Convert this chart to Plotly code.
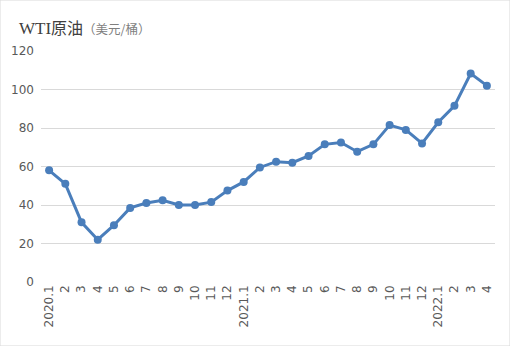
import plotly.graph_objects as go

tick_labels = ["2020.1", "2", "3", "4", "5", "6", "7", "8", "9", "10", "11", "12",
               "2021.1", "2", "3", "4", "5", "6", "7", "8", "9", "10", "11", "12",
               "2022.1", "2", "3", "4"]
wti_price = [58, 51, 31, 22, 29.5, 38.5, 41, 42.5, 40, 40, 41.5, 47.5,
             52, 59.5, 62.5, 62, 65.5, 71.5, 72.5, 67.7, 71.5, 81.5, 79, 72,
             83, 91.5, 108.3, 102]
y_ticks = [0, 20, 40, 60, 80, 100, 120]

x_idx = list(range(len(wti_price)))
line_color = "#4A7EBB"

fig = go.Figure()
fig.add_trace(go.Scatter(
    x=x_idx, y=wti_price, mode="lines+markers",
    line=dict(color=line_color, width=3),
    marker=dict(color=line_color, size=8),
    hoverinfo="x+y", showlegend=False,
))

fig.update_layout(
    width=510, height=346,
    margin=dict(l=41, r=15, t=51, b=64),
    paper_bgcolor="white", plot_bgcolor="white",
    font=dict(family="DejaVu Sans", size=12, color="#595959"),
    xaxis=dict(
        range=[-0.5, len(wti_price) - 0.5],
        tickmode="array", tickvals=x_idx, ticktext=tick_labels,
        tickangle=-90, showgrid=False, zeroline=False, showline=False,
        ticks="", tickfont=dict(size=12, color="#595959"),
    ),
    yaxis=dict(
        range=[0, 120], tickmode="array", tickvals=y_ticks,
        showgrid=True, gridcolor="#D9D9D9", gridwidth=1,
        zeroline=False, showline=False, ticks="",
        ticklabelstandoff=6,
        tickfont=dict(size=12, color="#595959"),
    ),
    shapes=[dict(type="rect", xref="paper", yref="paper",
                 x0=-41/454, x1=1+15/454, y0=-64/231, y1=1+51/231,
                 line=dict(color="#D9D9D9", width=1))],
    annotations=[dict(
        xref="paper", yref="paper", x=-24/454, y=1+24/231,
        xanchor="left", yanchor="middle", showarrow=False,
        text="<span style='font-family:Liberation Serif, DejaVu Serif; font-size:17px; color:#404040'>WTI</span>"
             "<span style='font-family:Noto Sans CJK SC; font-size:16px; color:#404040'>原油</span>"
             "<span style='font-family:Noto Sans CJK SC; font-size:12.5px; color:#7F7F7F'>（美元/桶）</span>",
    )],
)

fig.write_html("out.html")
